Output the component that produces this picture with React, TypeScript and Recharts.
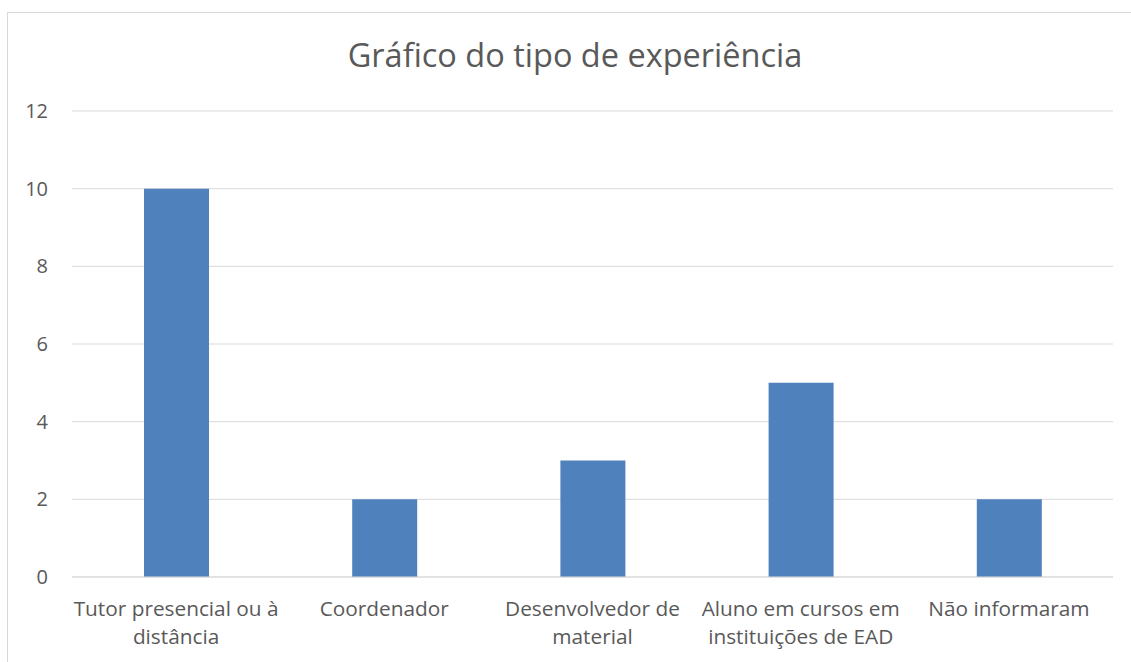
import React from "react";
import { BarChart, Bar, XAxis, YAxis, CartesianGrid } from "recharts";

const categories = [
  "Tutor presencial ou à distância",
  "Coordenador",
  "Desenvolvedor de material",
  "Aluno em cursos em instituições de EAD",
  "Não informaram",
];
const categoryLines: string[][] = [
  ["Tutor presencial ou à", "distância"],
  ["Coordenador"],
  ["Desenvolvedor de", "material"],
  ["Aluno em cursos em", "instituições de EAD"],
  ["Não informaram"],
];
const values = [10, 2, 3, 5, 2];
const yTicks = [0, 2, 4, 6, 8, 10, 12];
const title = "Gráfico do tipo de experiência";

const data = categories.map((c, i) => ({ name: c, value: values[i], idx: i }));

const FONT = "'Open Sans', sans-serif";
const TEXT = "#595959";

const XTick = (props: any) => {
  const { x, y, index } = props;
  const lines = categoryLines[index] || [String(props.payload.value)];
  return (
    <text x={x} y={y} textAnchor="middle" fill={TEXT} fontSize={20.8} fontFamily={FONT}>
      {lines.map((l, i) => (
        <tspan key={i} x={x} y={y + 31 + i * 28}>
          {l}
        </tspan>
      ))}
    </text>
  );
};

export default function App() {
  return (
    <div
      style={{
        position: "fixed",
        left: 0,
        top: 0,
        width: 1131,
        height: 662,
        overflow: "hidden",
        background: "#fff",
      }}
    >
      <div
        style={{
          position: "absolute",
          left: 7,
          top: 12,
          width: 1200,
          height: 700,
          border: "1px solid #d9d9d9",
          boxSizing: "border-box",
        }}
      />
      <div
        style={{
          position: "absolute",
          left: 0,
          top: 34,
          width: 1150,
          textAlign: "center",
          fontFamily: FONT,
          fontSize: 32.5,
          color: TEXT,
          lineHeight: "42px",
        }}
      >
        {title}
      </div>
      <div style={{ position: "absolute", left: 0, top: 0 }}>
        <BarChart
          width={1131}
          height={662}
          data={data}
          margin={{ top: 111, right: 18, bottom: 0, left: 0 }}
          barCategoryGap={0}
        >
          <CartesianGrid vertical={false} stroke="#d9d9d9" strokeWidth={1} />
          <YAxis
            domain={[0, 12]}
            ticks={yTicks}
            width={72}
            axisLine={false}
            tickLine={false}
            tickSize={0}
            tickMargin={24}
            tick={{ fill: TEXT, fontSize: 20, fontFamily: FONT }}
            interval={0}
          />
          <XAxis
            dataKey="name"
            height={85}
            axisLine={{ stroke: "#d9d9d9" }}
            tickLine={false}
            tick={<XTick />}
            interval={0}
          />
          <Bar dataKey="value" fill="#4f81bd" barSize={65} isAnimationActive={false} />
        </BarChart>
      </div>
    </div>
  );
}
